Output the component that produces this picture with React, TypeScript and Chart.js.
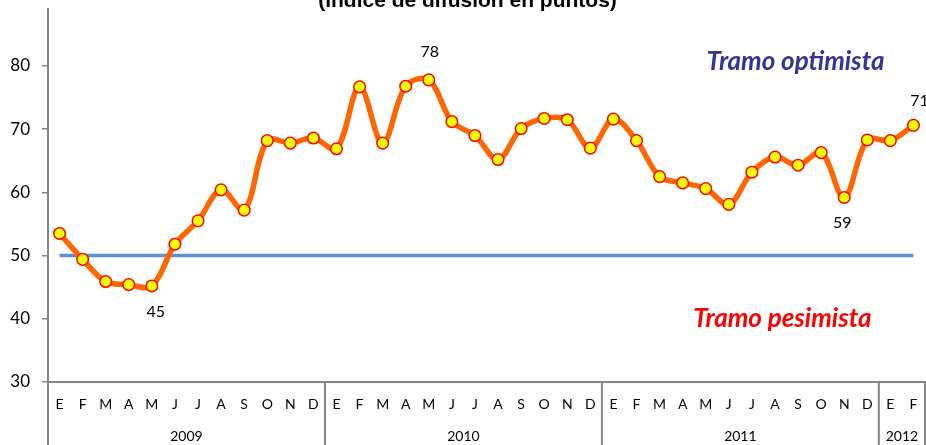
import { useEffect, useRef } from "react";
import { Chart, registerables } from "chart.js";

Chart.register(...registerables);

// ---------- data ----------
const years = ["2009", "2010", "2011", "2012"];
const monthsPerYear = [12, 12, 12, 2];
const monthLetters = ["E", "F", "M", "A", "M", "J", "J", "A", "S", "O", "N", "D"];

const indexValues = [
  53.5, 49.4, 45.9, 45.4, 45.2, 51.8, 55.5, 60.4, 57.2, 68.2, 67.8, 68.6,
  66.9, 76.7, 67.8, 76.8, 77.8, 71.2, 69.0, 65.2, 70.1, 71.7, 71.5, 67.0,
  71.6, 68.2, 62.5, 61.5, 60.6, 58.1, 63.2, 65.6, 64.3, 66.3, 59.2, 68.3,
  68.2, 70.6,
];

const thresholdValue = 50;
const yMin = 30;
const yMax = 90;
const yStep = 10;

const pointLabels = [
  { index: 4, text: "45", dx: 4, dy: 26 },
  { index: 16, text: "78", dx: 1, dy: -28 },
  { index: 34, text: "59", dx: -2, dy: 25 },
  { index: 37, text: "71", dx: 6, dy: -25 },
];

const zoneLabels = [
  { text: "Tramo optimista", at: 31.89, value: 80.7, color: "#333399" },
  { text: "Tramo pesimista", at: 31.32, value: 40.0, color: "#FF0000" },
];

const titleText = "(índice de difusión en puntos)";

// categories built from the small arrays above
const categories: string[] = [];
monthsPerYear.forEach((n) => {
  for (let i = 0; i < n; i++) categories.push(monthLetters[i]);
});
const thresholdSeries = categories.map(() => thresholdValue);

// ---------- layout ----------
const W = 926;
const H = 445;
const OFFSET = 40; // canvas is shifted up so the title is cut off like the reference
const CALIBRI = "Lato, 'Open Sans', sans-serif";
const AXIS_GRAY = "#868686";

const overlayPlugin = {
  id: "overlay",
  afterDraw(chart: any) {
    const ctx = chart.ctx as CanvasRenderingContext2D;
    const x = chart.scales.x;
    const y = chart.scales.y;
    const area = chart.chartArea;
    const meta = chart.getDatasetMeta(0);

    ctx.save();

    // year separators & frame below x axis
    const boundaries: number[] = [area.left];
    let acc = 0;
    monthsPerYear.forEach((n, i) => {
      acc += n;
      if (i < monthsPerYear.length - 1) {
        boundaries.push((x.getPixelForValue(acc - 1) + x.getPixelForValue(acc)) / 2);
      }
    });
    boundaries.push(area.right);
    ctx.strokeStyle = AXIS_GRAY;
    ctx.lineWidth = 2;
    boundaries.forEach((bx) => {
      ctx.beginPath();
      ctx.moveTo(bx, area.bottom);
      ctx.lineTo(bx, chart.height);
      ctx.stroke();
    });

    // year labels
    ctx.fillStyle = "#000";
    ctx.font = `14px ${CALIBRI}`;
    ctx.textAlign = "center";
    ctx.textBaseline = "middle";
    years.forEach((yr, i) => {
      const cx = (boundaries[i] + boundaries[i + 1]) / 2;
      ctx.fillText(yr, cx, area.bottom + 54.5);
    });

    // point value labels
    ctx.font = `16px ${CALIBRI}`;
    pointLabels.forEach((l) => {
      const p = meta.data[l.index];
      ctx.fillText(l.text, p.x + l.dx, p.y + l.dy);
    });

    // zone labels
    ctx.font = `italic bold 26px ${CALIBRI}`;
    zoneLabels.forEach((z) => {
      ctx.fillStyle = z.color;
      ctx.fillText(z.text, x.getPixelForValue(z.at), y.getPixelForValue(z.value));
    });

    // title box (white) and cut-off title
    ctx.fillStyle = "#fff";
    ctx.fillRect(0, 0, chart.width, OFFSET + 8);
    ctx.fillStyle = "#000";
    ctx.font = "bold 21px 'Liberation Sans', Arial, sans-serif";
    ctx.textBaseline = "alphabetic";
    ctx.fillText(titleText, 467.5, OFFSET + 6.5);

    ctx.restore();
  },
};

export default function App() {
  const ref = useRef<HTMLCanvasElement | null>(null);

  useEffect(() => {
    if (!ref.current) return;
    const chart = new Chart(ref.current, {
      type: "line",
      data: {
        labels: categories,
        datasets: [
          {
            label: "Índice",
            data: indexValues,
            borderColor: "#FF6600",
            borderWidth: 5.5,
            tension: 0.35,
            pointRadius: 5.8,
            pointBackgroundColor: "#FFFF00",
            pointBorderColor: "#FF0000",
            pointBorderWidth: 1.5,
            fill: false,
          },
          {
            label: "Umbral",
            data: thresholdSeries,
            borderColor: "#5B8FD6",
            borderWidth: 3.5,
            pointRadius: 0,
            tension: 0,
            fill: false,
          },
        ],
      },
      options: {
        responsive: false,
        maintainAspectRatio: false,
        animation: false,
        layout: {
          autoPadding: false,
          padding: { top: OFFSET + 2.8, right: 1, left: 0, bottom: 0 },
        },
        plugins: {
          legend: { display: false },
          title: { display: false },
          tooltip: { enabled: false },
        },
        scales: {
          x: {
            type: "category",
            offset: true,
            grid: { display: false, drawTicks: false },
            border: { display: true, color: AXIS_GRAY, width: 2 },
            ticks: {
              autoSkip: false,
              maxRotation: 0,
              minRotation: 0,
              padding: 14,
              color: "#000",
              font: { family: CALIBRI, size: 14 },
            },
            afterFit: (s: any) => {
              s.height = 63;
              s.paddingLeft = 0;
              s.paddingRight = 0;
            },
          },
          y: {
            min: yMin,
            max: yMax,
            ticks: {
              stepSize: yStep,
              padding: 12,
              color: "#000",
              font: { family: CALIBRI, size: 17 },
            },
            grid: {
              display: true,
              drawOnChartArea: false,
              drawTicks: true,
              tickLength: 6,
              color: AXIS_GRAY,
              lineWidth: 1.5,
            },
            border: { display: true, color: AXIS_GRAY, width: 2 },
            afterFit: (s: any) => {
              s.width = 48;
            },
          },
        },
      },
      plugins: [overlayPlugin],
    });
    return () => chart.destroy();
  }, []);

  return (
    <div
      style={{
        position: "fixed",
        left: 0,
        top: -OFFSET,
        width: W,
        height: H + OFFSET,
        background: "#fff",
      }}
    >
      <canvas ref={ref} width={W} height={H + OFFSET} style={{ width: W, height: H + OFFSET }} />
    </div>
  );
}
